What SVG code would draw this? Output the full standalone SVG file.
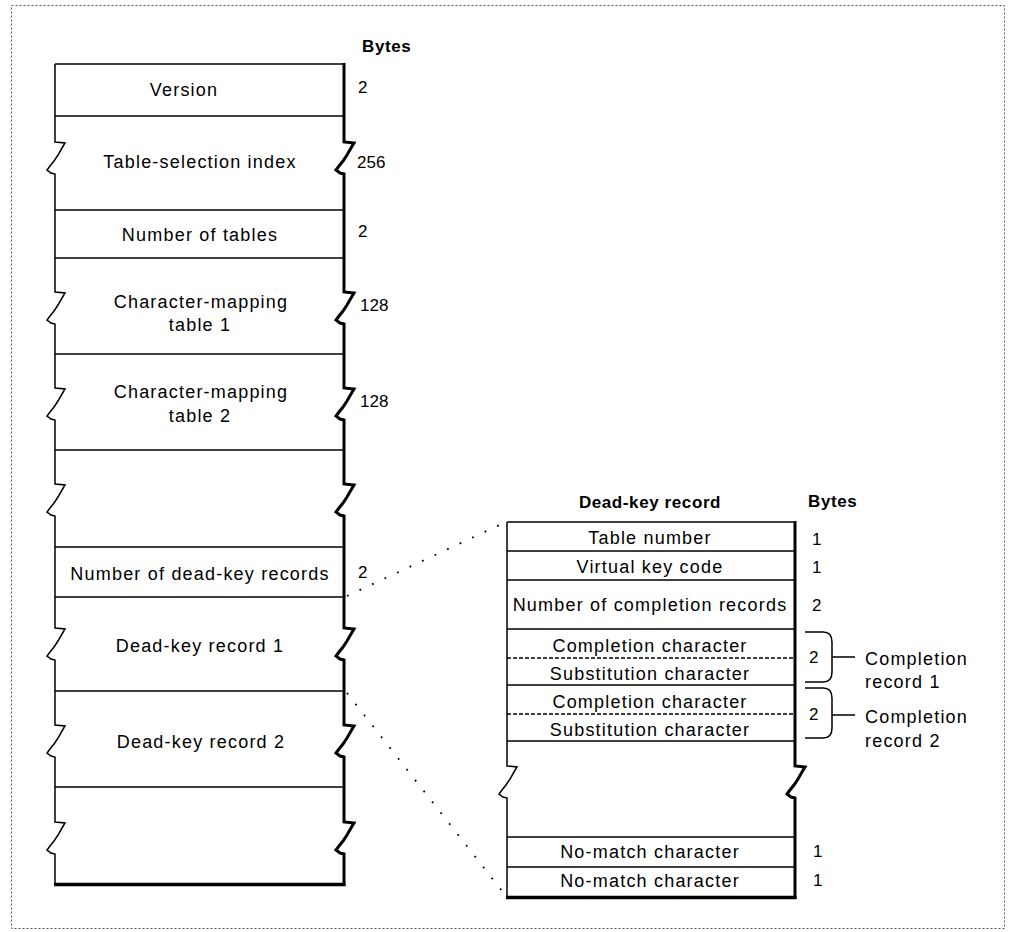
<svg xmlns="http://www.w3.org/2000/svg" width="1009" height="932" viewBox="0 0 1009 932">
<style>
text{font-family:"Liberation Sans",Arial,sans-serif;fill:#000}
.t{font-size:18px;letter-spacing:1.2px;text-anchor:middle}
.l{font-size:18px;letter-spacing:1.2px}
.n{font-size:17px}
.h{font-size:17px;font-weight:bold;letter-spacing:0.6px}
.thin{fill:none;stroke:#000;stroke-width:1.5}
.thick{fill:none;stroke:#000;stroke-width:3}
.dash{fill:none;stroke:#000;stroke-width:1.3;stroke-dasharray:4 2}
.dot{fill:none;stroke:#000;stroke-width:1.8;stroke-dasharray:1.8 12}
</style>
<rect x="11.5" y="5.5" width="993" height="923" fill="none" stroke="#555" stroke-width="1" stroke-dasharray="2 2"/>

<g id="connectors">
<path class="dot" d="M347,596 L506,522"/>
<path class="dot" d="M347,693 L506,896"/>
</g>

<g id="main-table">
<path class="thin" d="M55,64 H344"/>
<path class="thin" d="M55,116 H344 M55,210 H344 M55,258 H344 M55,354 H344 M55,450 H344 M55,547 H344 M55,597 H344 M55,691 H344 M55,787 H344"/>
<path class="thin" d="M55,64 V142 l10,1 l-3,5 l-4,7 l-4,6 l-4,5 l-3,4 l4,3 l4,1 V292 l10,1 l-3,5 l-4,7 l-4,6 l-4,5 l-3,4 l4,3 l4,1 V388 l10,1 l-3,5 l-4,7 l-4,6 l-4,5 l-3,4 l4,3 l4,1 V484 l10,1 l-3,5 l-4,7 l-4,6 l-4,5 l-3,4 l4,3 l4,1 V628 l10,1 l-3,5 l-4,7 l-4,6 l-4,5 l-3,4 l4,3 l4,1 V725 l10,1 l-3,5 l-4,7 l-4,6 l-4,5 l-3,4 l4,3 l4,1 V822 l10,1 l-3,5 l-4,7 l-4,6 l-4,5 l-3,4 l4,3 l4,1 V884"/>
<path class="thick" d="M344,63 V142 l10,1 l-3,5 l-4,7 l-4,6 l-4,5 l-3,4 l4,3 l4,1 V292 l10,1 l-3,5 l-4,7 l-4,6 l-4,5 l-3,4 l4,3 l4,1 V388 l10,1 l-3,5 l-4,7 l-4,6 l-4,5 l-3,4 l4,3 l4,1 V484 l10,1 l-3,5 l-4,7 l-4,6 l-4,5 l-3,4 l4,3 l4,1 V628 l10,1 l-3,5 l-4,7 l-4,6 l-4,5 l-3,4 l4,3 l4,1 V725 l10,1 l-3,5 l-4,7 l-4,6 l-4,5 l-3,4 l4,3 l4,1 V822 l10,1 l-3,5 l-4,7 l-4,6 l-4,5 l-3,4 l4,3 l4,1 V886"/>
<path d="M54,884.5 H345.5" fill="none" stroke="#000" stroke-width="3.5"/>
</g>

<g id="main-labels">
<text class="h" x="362" y="52">Bytes</text>
<text class="t" x="184" y="96">Version</text>
<text class="n" x="358" y="93">2</text>
<text class="t" x="200" y="168">Table-selection index</text>
<text class="n" x="357" y="168">256</text>
<text class="t" x="200" y="241">Number of tables</text>
<text class="n" x="358" y="237">2</text>
<text class="t" x="201" y="308">Character-mapping</text>
<text class="t" x="200" y="331">table 1</text>
<text class="n" x="360" y="311">128</text>
<text class="t" x="201" y="398">Character-mapping</text>
<text class="t" x="200" y="422">table 2</text>
<text class="n" x="360" y="407">128</text>
<text class="t" x="200" y="580">Number of dead-key records</text>
<text class="n" x="358" y="578">2</text>
<text class="t" x="200" y="652">Dead-key record 1</text>
<text class="t" x="201" y="748">Dead-key record 2</text>
</g>

<g id="dead-key-record">
<text class="h" x="650" y="508" text-anchor="middle">Dead-key record</text>
<text class="h" x="808" y="507">Bytes</text>
<path class="thin" d="M507,522 H795"/>
<path class="thin" d="M507,551 H795 M507,580 H795 M507,629 H795 M507,685 H795 M507,741 H795 M507,837 H795 M507,867 H795"/>
<path class="dash" d="M507,658 H795 M507,714 H795"/>
<path class="thin" d="M507,522 V766 l10,1 l-3,5 l-4,7 l-4,6 l-4,5 l-3,4 l4,3 l4,1 V897"/>
<path class="thick" d="M795,521 V766 l10,1 l-3,5 l-4,7 l-4,6 l-4,5 l-3,4 l4,3 l4,1 V899"/>
<path d="M506,897.5 H796.5" fill="none" stroke="#000" stroke-width="3.5"/>
<text class="t" x="650" y="544">Table number</text>
<text class="n" x="812" y="545">1</text>
<text class="t" x="650" y="573">Virtual key code</text>
<text class="n" x="812" y="573">1</text>
<text class="t" x="650" y="611">Number of completion records</text>
<text class="n" x="812" y="611">2</text>
<text class="t" x="650" y="652">Completion character</text>
<text class="t" x="650" y="680">Substitution character</text>
<text class="t" x="650" y="708">Completion character</text>
<text class="t" x="650" y="736">Substitution character</text>
<text class="t" x="650" y="858">No-match character</text>
<text class="n" x="813" y="857">1</text>
<text class="t" x="650" y="887">No-match character</text>
<text class="n" x="813" y="886">1</text>
</g>

<g id="completion-record-1">
<path class="thin" d="M805,632 H823 Q832,632 832,642 V672 Q832,682 823,682 H805 M832,657 H855"/>
<text class="n" x="809" y="663">2</text>
<text class="l" x="865" y="665">Completion</text>
<text class="l" x="865" y="688">record 1</text>
</g>

<g id="completion-record-2">
<path class="thin" d="M805,688 H823 Q832,688 832,698 V728 Q832,738 823,738 H805 M832,715 H855"/>
<text class="n" x="809" y="720">2</text>
<text class="l" x="865" y="723">Completion</text>
<text class="l" x="865" y="747">record 2</text>
</g>
</svg>
